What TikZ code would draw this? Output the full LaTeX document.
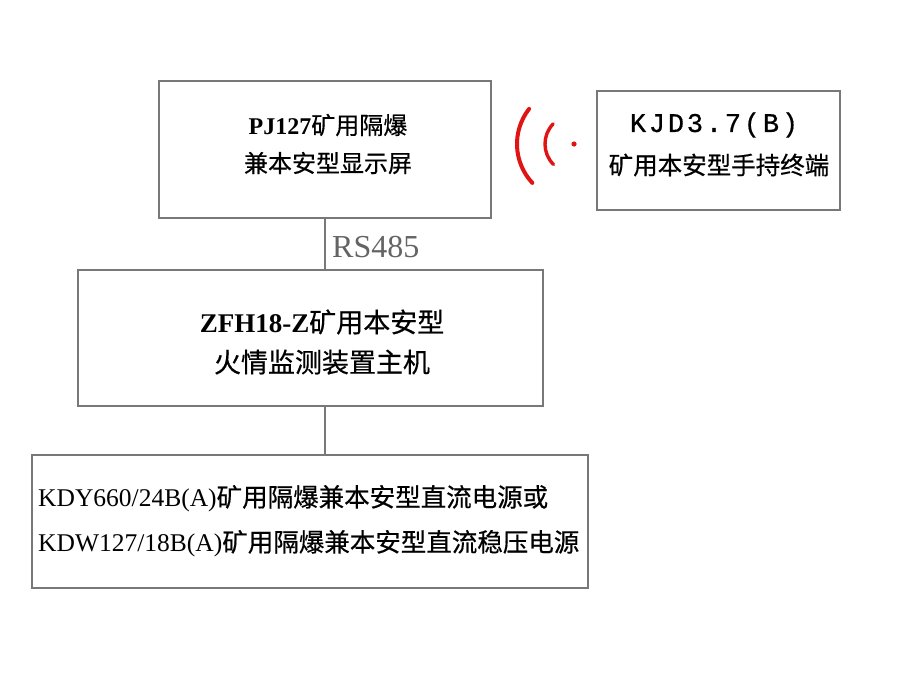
\documentclass[tikz,border=0pt]{standalone}
\usepackage{fontspec}
\setmainfont{Liberation Serif}
\newfontfamily\cjk[FakeBold=0.5]{Noto Sans CJK SC}
\newfontfamily\monof[FakeBold=0.6]{Liberation Mono}
\newcommand\kjdc[1]{\makebox[19pt]{#1}}
\definecolor{boxgray}{RGB}{120,120,120}
\definecolor{txtgray}{RGB}{100,100,100}
\definecolor{sigred}{RGB}{225,20,20}
\begin{document}
\begin{tikzpicture}[x=1pt,y=-1pt,
  box/.style={draw=boxgray, line width=1.3pt, inner sep=0pt, fill=none},
  conn/.style={draw=boxgray, line width=1.3pt},
  txt/.style={inner sep=0pt, align=center, text=black},
  wave/.style={draw=sigred, line cap=round}]
\useasboundingbox[fill=white] (0,0) rectangle (900,689);
% boxes
\node[box, minimum width=332pt, minimum height=137pt] (b1) at (325,149.5) {};
\node[box, minimum width=243pt, minimum height=119pt] (b2) at (718.5,150.5) {};
\node[box, minimum width=465pt, minimum height=136pt] (b3) at (310.5,338) {};
\node[box, minimum width=556pt, minimum height=133pt] (b4) at (310,521.5) {};
% texts
\node[txt, font={\fontsize{24}{38}\selectfont}] (t1) at (328,144) {\textbf{PJ127}{\cjk 矿用隔爆}\\{\cjk 兼本安型显示屏}};
\node[txt, font={\fontsize{27}{27}\selectfont\monof}] (t2a) at (714,125) {\kjdc{K}\kjdc{J}\kjdc{D}\kjdc{3}\kjdc{.}\kjdc{7}\kjdc{(}\kjdc{B}\kjdc{)}};
\node[txt, font={\fontsize{24.5}{25}\selectfont\cjk}] (t2b) at (719,165) {矿用本安型手持终端};
\node[txt, font={\fontsize{27}{40}\selectfont}] (t3) at (322,342) {\textbf{ZFH18-Z}{\cjk 矿用本安型}\\{\cjk 火情监测装置主机}};
\node[txt, align=left, anchor=west, font={\fontsize{25.5}{45}\selectfont}] (t4) at (38,521) {KDY660/24B(A){\cjk 矿用隔爆兼本安型直流电源或}\\KDW127/18B(A){\cjk 矿用隔爆兼本安型直流稳压电源}};
% connectors
\coordinate (j1) at (b1.south);
\draw[conn] (j1) -- (j1 |- b3.north);
\draw[conn] (j1 |- b3.south) -- (j1 |- b4.north);
\node[inner sep=0pt, anchor=west, text=txtgray, font={\fontsize{32}{32}\selectfont}] (rs) at (332,247) {RS485};
% wireless symbol
\coordinate (wc) at (574,144);
\draw[wave, line width=4pt] (wc) ++(137:57) arc[start angle=137, end angle=218, radius=57];
\draw[wave, line width=3.4pt] (wc) ++(135:29) arc[start angle=135, end angle=224, radius=29];
\fill[sigred] (wc) circle (2.6);
\end{tikzpicture}
\end{document}
